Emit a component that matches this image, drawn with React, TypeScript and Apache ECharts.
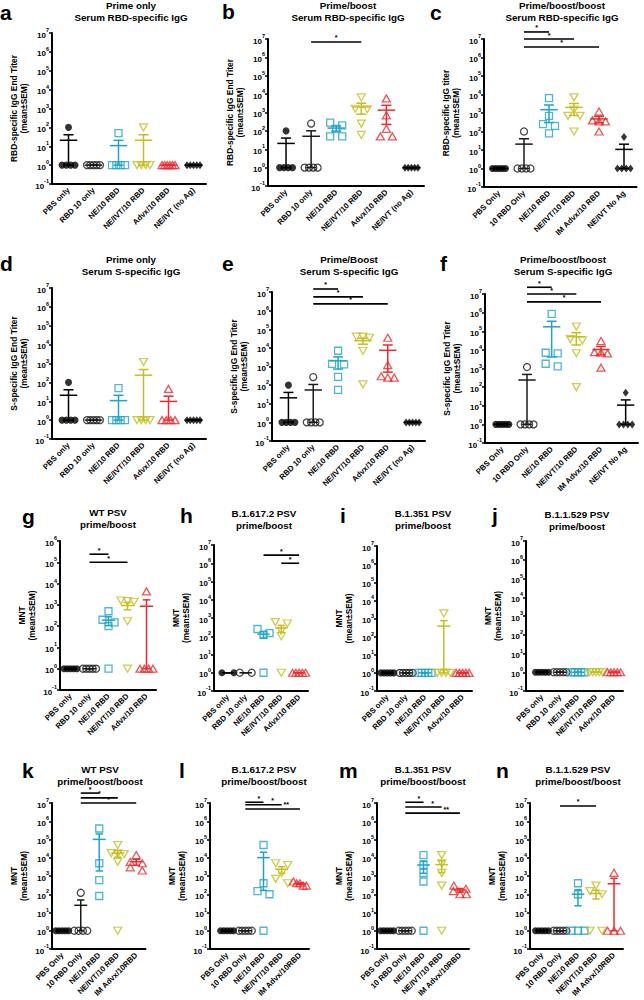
import React, { useEffect, useRef } from "react";
import * as echarts from "echarts";

const FONT = '"Liberation Sans", Arial, Helvetica, sans-serif';

// ---------- categories ----------
const CATS_ABDE = ["PBS only", "RBD 10 only", "NE/10 RBD", "NE/IVT/10 RBD", "Advx/10 RBD", "NE/IVT (no Ag)"];
const CATS_CF = ["PBS Only", "10 RBD Only", "NE/10 RBD", "NE/IVT/10 RBD", "IM Advx/10 RBD", "NE/IVT No Ag"];
const CATS_GJ = ["PBS only", "RBD 10 only", "NE/10 RBD", "NE/IVT/10 RBD", "Advx/10 RBD"];
const CATS_KN = ["PBS Only", "10 RBD Only", "NE/10 RBD", "NE/IVT/10 RBD", "IM Advx/10RBD"];

// ---------- values (one array per group) ----------
const VALUES_A = [[100, 1, 1, 1, 1], [1, 1, 1, 1, 1], [50, 1, 1, 1, 1], [100, 1, 1, 1, 1], [1, 1, 1, 1, 1, 1], [1, 1, 1, 1, 1]];
const VALUES_B = [[100, 1, 1, 1, 1], [250, 1, 1, 1, 1], [280, 200, 130, 50, 50], [6600, 1600, 1500, 250, 60], [5800, 700, 130, 50, 50], [1, 1, 1, 1, 1]];
const VALUES_C = [[1, 1, 1, 1, 1], [100, 1, 1, 1, 1], [6300, 700, 250, 200, 80], [7000, 1500, 700, 700, 100], [1200, 400, 350, 350, 100], [50, 1, 1, 1, 1]];
const VALUES_D = [[100, 1, 1, 1, 1], [1, 1, 1, 1, 1], [50, 1, 1, 1, 1], [1200, 1, 1, 1, 1], [45, 1, 1, 1, 1], [1, 1, 1, 1, 1]];
const VALUES_E = [[100, 1, 1, 1, 1], [270, 1, 1, 1, 1], [7000, 1400, 1300, 280, 55], [40000, 40000, 35000, 7000, 110], [35000, 1200, 300, 250, 250], [1, 1, 1, 1, 1]];
const VALUES_F = [[1, 1, 1, 1, 1], [1200, 1, 1, 1, 1], [850000, 7000, 6500, 1800, 1300], [180000, 38000, 32000, 6600, 100], [30000, 7500, 7000, 6500, 1100], [50, 1, 1, 1, 1]];
const VALUES_G = [[1, 1, 1, 1, 1], [1, 1, 1, 1, 1], [500, 200, 150, 100, 1], [1600, 1500, 1400, 170, 1], [4300, 1, 1, 1, 1]];
const VALUES_H = [[1, 1], [1, 1], [250, 150, 120, 1], [600, 500, 200, 100, 1], [1, 1, 1, 1, 1]];
const VALUES_I = [[1, 1, 1, 1, 1], [1, 1, 1, 1, 1], [1, 1, 1, 1, 1], [1900, 1, 1, 1, 1], [1, 1, 1, 1, 1]];
const VALUES_J = [[1, 1, 1, 1, 1], [1, 1, 1, 1, 1], [1, 1, 1, 1, 1], [1, 1, 1, 1, 1], [1, 1, 1, 1, 1]];
const VALUES_K = [[1, 1, 1, 1, 1], [120, 1, 1, 1, 1], [400000, 5000, 600, 80], [50000, 18000, 17000, 16000, 6000, 1], [14000, 6000, 5000, 3000, 2000]];
const VALUES_L = [[1, 1, 1, 1, 1], [1, 1, 1, 1, 1], [50000, 400, 150, 100, 1], [5000, 4000, 1500, 700, 400], [500, 400, 400, 300, 300]];
const VALUES_M = [[1, 1, 1, 1, 1], [1, 1, 1, 1, 1], [14000, 4000, 1500, 500, 1], [14000, 5000, 1500, 300, 1], [300, 200, 150, 100, 100]];
const VALUES_N = [[1, 1, 1, 1, 1], [1, 1, 1, 1, 1], [400, 100, 1, 1, 1], [300, 150, 100, 1, 1], [1500, 1, 1, 1]];

// ---------- significance bars: [fromGroup, toGroup, level, label] ----------
const SIG_B: [number, number, number, string][] = [[1, 3, 6.9e6, "*"]];
const SIG_C: [number, number, number, string][] = [[1, 2, 2.4e7, "*"], [1, 3, 1e7, "*"], [1, 4, 3.7e6, "*"]];
const SIG_E: [number, number, number, string][] = [[1, 2, 1.45e7, "*"], [1, 3, 5.5e6, "*"], [1, 4, 2.3e6, "*"]];
const SIG_F: [number, number, number, string][] = [[1, 2, 2.3e7, "*"], [1, 3, 1e7, "*"], [1, 4, 3.8e6, "*"]];
const SIG_G: [number, number, number, string][] = [[1, 2, 2.4e5, "*"], [1, 3, 1.0e5, "*"]];
const SIG_H: [number, number, number, string][] = [[2, 4, 2.8e6, "*"], [3, 4, 1.0e6, "*"]];
const SIG_K: [number, number, number, string][] = [[1, 2, 3.5e7, "*"], [1, 3, 1.9e7, "*"], [1, 4, 1e7, "*"]];
const SIG_L: [number, number, number, string][] = [[1, 2, 1.1e7, "*"], [1, 3, 8e6, "*"], [1, 4, 4.7e6, "**"]];
const SIG_M: [number, number, number, string][] = [[1, 2, 1.1e7, "*"], [1, 3, 6e6, "*"], [1, 4, 2.8e6, "**"]];
const SIG_N: [number, number, number, string][] = [[1, 3, 6.9e6, "*"]];

// ---------- group styles ----------
const GROUP_COLORS = ["#000000", "#1a1a1a", "#22a2c8", "#c4be22", "#ec2a2e", "#000000"];
const GROUP_SYMBOLS: any[] = [
  { symbol: "circle", size: 7, filled: true },
  { symbol: "circle", size: 7, filled: false },
  { symbol: "rect", size: 7, filled: false },
  { symbol: "path://M0,0L10,0L5,9Z", size: [8, 7], filled: false },
  { symbol: "path://M5,0L10,9L0,9Z", size: [8, 7], filled: false },
  { symbol: "diamond", size: [6, 8], filled: true },
];

const NAME_RBD = "RBD-specific IgG End Titer\n(mean±SEM)";
const NAME_RBD_C = "RBD-specific IgG titer\n(mean±SEM)";
const NAME_S = "S-specific IgG End Titer\n(mean±SEM)";
const NAME_MNT = "MNT\n(mean±SEM)";

const PANELS = [
  { letter: "a", lx: 0, ly: 12, t1: "Prime only", t2: "Serum RBD-specific IgG", tx: 131, ty: 5, cats: CATS_ABDE, vals: VALUES_A, sig: [], yMax: 1e7, yName: NAME_RBD, axisX: 52, left: 56, width: 150, top: 33, bottom: 184, starAt: 0.5 },
  { letter: "b", lx: 222, ly: 11, t1: "Prime/boost", t2: "Serum RBD-specific IgG", tx: 348, ty: 5, cats: CATS_ABDE, vals: VALUES_B, sig: SIG_B, yMax: 1e7, yName: NAME_RBD, axisX: 268, left: 273.5, width: 150.5, top: 39, bottom: 186, starAt: 0.5 },
  { letter: "c", lx: 430, ly: 12, t1: "Prime/boost/boost", t2: "Serum RBD-specific IgG", tx: 562, ty: 5, cats: CATS_CF, vals: VALUES_C, sig: SIG_C, yMax: 1e7, yName: NAME_RBD_C, axisX: 484, left: 486.5, width: 150, top: 39, bottom: 187, starAt: 0.5 },
  { letter: "d", lx: 0, ly: 263, t1: "Prime only", t2: "Serum S-specific IgG", tx: 131, ty: 259, cats: CATS_ABDE, vals: VALUES_D, sig: [], yMax: 1e7, yName: NAME_S, axisX: 52, left: 56, width: 150, top: 288, bottom: 439, starAt: 0.5 },
  { letter: "e", lx: 222, ly: 263, t1: "Prime/Boost", t2: "Serum S-specific IgG", tx: 349, ty: 259, cats: CATS_ABDE, vals: VALUES_E, sig: SIG_E, yMax: 1e7, yName: NAME_S, axisX: 272, left: 276, width: 149, top: 292, bottom: 441, starAt: 0.5 },
  { letter: "f", lx: 440, ly: 263, t1: "Prime/boost/boost", t2: "Serum S-specific IgG", tx: 563, ty: 259, cats: CATS_CF, vals: VALUES_F, sig: SIG_F, yMax: 1e7, yName: NAME_S, axisX: 485, left: 490, width: 148, top: 294, bottom: 443, starAt: 0.5 },
  { letter: "g", lx: 22, ly: 516, t1: "WT PSV", t2: "prime/boost", tx: 108, ty: 512, cats: CATS_GJ, vals: VALUES_G, sig: SIG_G, yMax: 1e6, yName: NAME_MNT, axisX: 60, left: 61, width: 95, top: 541, bottom: 690, starAt: 0.5 },
  { letter: "h", lx: 180, ly: 515, t1: "B.1.617.2 PSV", t2: "prime/boost", tx: 264, ty: 513, cats: CATS_GJ, vals: VALUES_H, sig: SIG_H, yMax: 1e7, yName: NAME_MNT, axisX: 214, left: 219, width: 89, top: 545, bottom: 691, starAt: 0.5 },
  { letter: "i", lx: 340, ly: 515, t1: "B.1.351 PSV", t2: "prime/boost", tx: 423, ty: 513, cats: CATS_GJ, vals: VALUES_I, sig: [], yMax: 1e7, yName: NAME_MNT, axisX: 377, left: 378, width: 94, top: 546, bottom: 691, starAt: 0.5 },
  { letter: "j", lx: 492, ly: 515, t1: "B.1.1.529 PSV", t2: "prime/boost", tx: 577, ty: 514, cats: CATS_GJ, vals: VALUES_J, sig: [], yMax: 1e7, yName: NAME_MNT, axisX: 526, left: 533, width: 90, top: 541, bottom: 691, starAt: 0.5 },
  { letter: "k", lx: 22, ly: 770, t1: "WT PSV", t2: "prime/boost/boost", tx: 100, ty: 769, cats: CATS_KN, vals: VALUES_K, sig: SIG_K, yMax: 1e7, yName: NAME_MNT, axisX: 52, left: 53, width: 92.5, top: 803, bottom: 949, starAt: 0.5 },
  { letter: "l", lx: 179, ly: 770, t1: "B.1.617.2 PSV", t2: "prime/boost/boost", tx: 264, ty: 769, cats: CATS_KN, vals: VALUES_L, sig: SIG_L, yMax: 1e7, yName: NAME_MNT, axisX: 210, left: 218, width: 91, top: 803, bottom: 949, starAt: 0.75 },
  { letter: "m", lx: 339, ly: 770, t1: "B.1.351 PSV", t2: "prime/boost/boost", tx: 423, ty: 769, cats: CATS_KN, vals: VALUES_M, sig: SIG_M, yMax: 1e7, yName: NAME_MNT, axisX: 377, left: 378, width: 91, top: 803, bottom: 949, starAt: 0.75 },
  { letter: "n", lx: 496, ly: 770, t1: "B.1.1.529 PSV", t2: "prime/boost/boost", tx: 578, ty: 769, cats: CATS_KN, vals: VALUES_N, sig: SIG_N, yMax: 1e7, yName: NAME_MNT, axisX: 530, left: 533, width: 90, top: 803, bottom: 949, starAt: 0.5 },
];

function meanSem(v: number[]) {
  const n = v.length;
  const m = v.reduce((a, b) => a + b, 0) / n;
  if (n < 2) return [m, 0];
  const sd = Math.sqrt(v.reduce((a, b) => a + (b - m) * (b - m), 0) / (n - 1));
  return [m, sd / Math.sqrt(n)];
}

// horizontal spreading of overlapping points (scatter-dot-plot style)
function spread(values: number[]): number[] {
  const idx = values.map((_, i) => i).sort((a, b) => values[b] - values[a]);
  const offs = new Array(values.length).fill(0);
  let i = 0;
  while (i < idx.length) {
    let j = i + 1;
    const base = Math.log10(values[idx[i]]);
    while (j < idx.length && base - Math.log10(values[idx[j]]) < 0.3) j++;
    const k = j - i;
    if (k > 1) {
      const step = Math.min(12, 13 / (k - 1));
      for (let t = 0; t < k; t++) offs[idx[i + t]] = (t - (k - 1) / 2) * step;
    }
    i = j;
  }
  return offs;
}

function buildOption() {
  const grid: any[] = [];
  const xAxis: any[] = [];
  const yAxis: any[] = [];
  const series: any[] = [];
  const graphic: any[] = [];

  PANELS.forEach((p, pi) => {
    grid.push({ left: p.left, top: p.top, width: p.width, height: p.bottom - p.top });
    xAxis.push({
      type: "category",
      gridIndex: pi,
      data: p.cats,
      axisLine: { onZero: false, lineStyle: { color: "#000", width: 2 } },
      axisTick: { alignWithLabel: true, length: 3, lineStyle: { color: "#000", width: 1.5 } },
      axisLabel: { rotate: 45, interval: 0, fontSize: 7.8, fontWeight: "bold", color: "#000", margin: 5, fontFamily: FONT },
      splitLine: { show: false },
    });
    yAxis.push({
      type: "log",
      gridIndex: pi,
      logBase: 10,
      min: 0.1,
      max: p.yMax,
      offset: p.left - p.axisX,
      axisLine: { show: true, lineStyle: { color: "#000", width: 2 } },
      axisTick: { show: true, length: 3, lineStyle: { color: "#000", width: 1.5 } },
      splitLine: { show: false },
      minorTick: { show: false },
      axisLabel: {
        color: "#000",
        margin: 3,
        fontFamily: FONT,
        formatter: (v: number) => "{b|10}{s|" + Math.round(Math.log10(v)) + "}",
        rich: {
          b: { fontSize: 8, fontWeight: "bold", color: "#000", fontFamily: FONT, lineHeight: 12, verticalAlign: "bottom" },
          s: { fontSize: 5.5, fontWeight: "bold", color: "#000", fontFamily: FONT, lineHeight: 7, verticalAlign: "top" },
        },
      },
      name: p.yName,
      nameLocation: "middle",
      nameGap: 23,
      nameTextStyle: { fontSize: 8.4, fontWeight: "bold", color: "#000", fontFamily: FONT, lineHeight: 10 },
    });

    // points
    p.vals.forEach((vals, gi) => {
      const st = GROUP_SYMBOLS[gi];
      const offs = spread(vals);
      series.push({
        type: "scatter",
        xAxisIndex: pi,
        yAxisIndex: pi,
        symbol: st.symbol,
        symbolSize: st.size,
        z: 4,
        itemStyle: {
          color: st.filled ? GROUP_COLORS[gi] : "rgba(0,0,0,0)",
          borderColor: GROUP_COLORS[gi],
          borderWidth: st.filled ? 0 : 1.3,
        },
        emphasis: { disabled: true },
        data: vals.map((v, k) => ({ value: [gi, v], symbolOffset: [offs[k], 0] })),
      });
    });

    // mean ± SEM
    const errData = p.vals.map((vals, gi) => {
      const [m, s] = meanSem(vals);
      return [gi, m, Math.max(m - s, 0.1), m + s];
    });
    series.push({
      type: "custom",
      xAxisIndex: pi,
      yAxisIndex: pi,
      z: 3,
      clip: false,
      encode: { x: 0, y: [1, 2, 3] },
      data: errData,
      renderItem: (params: any, api: any) => {
        const gi = api.value(0);
        const pm = api.coord([gi, api.value(1)]);
        const pl = api.coord([gi, api.value(2)]);
        const ph = api.coord([gi, api.value(3)]);
        const bw = api.size([1, 0])[0];
        const style = { stroke: GROUP_COLORS[gi], lineWidth: 1.5 };
        const ln = (x1: number, y1: number, x2: number, y2: number) => ({ type: "line", shape: { x1, y1, x2, y2 }, style });
        return {
          type: "group",
          children: [
            ln(pm[0], pl[1], pm[0], ph[1]),
            ln(pm[0] - bw * 0.35, pm[1], pm[0] + bw * 0.35, pm[1]),
            ln(pm[0] - bw * 0.2, ph[1], pm[0] + bw * 0.2, ph[1]),
            ln(pm[0] - bw * 0.2, pl[1], pm[0] + bw * 0.2, pl[1]),
          ],
        };
      },
    });

    // significance bars
    if (p.sig.length) {
      const sig = p.sig;
      const frac = p.starAt;
      series.push({
        type: "custom",
        xAxisIndex: pi,
        yAxisIndex: pi,
        z: 5,
        clip: false,
        encode: { x: [0, 2], y: 1 },
        data: sig.map((s) => [s[0], s[2], s[1]]),
        renderItem: (params: any, api: any) => {
          const s = sig[params.dataIndex];
          const p1 = api.coord([s[0], s[2]]);
          const p2 = api.coord([s[1], s[2]]);
          return {
            type: "group",
            children: [
              { type: "line", shape: { x1: p1[0], y1: p1[1], x2: p2[0], y2: p2[1] }, style: { stroke: "#000", lineWidth: 1.6 } },
              {
                type: "text",
                x: p1[0] + (p2[0] - p1[0]) * frac,
                y: p1[1] - 0.5,
                style: { text: s[3], font: `bold 7px ${FONT}`, fill: "#000", textAlign: "center", align: "center", textVerticalAlign: "bottom", verticalAlign: "bottom" },
              },
            ],
          };
        },
      });
    }

    // panel letter, titles, axis corner connector
    graphic.push({
      type: "text",
      x: p.lx,
      y: p.ly,
      style: { text: p.letter, font: `bold 21px ${FONT}`, fill: "#000", textAlign: "left", align: "left", textVerticalAlign: "middle", verticalAlign: "middle" },
    });
    [p.t1, p.t2].forEach((t, k) => {
      graphic.push({
        type: "text",
        x: p.tx,
        y: p.ty + k * 12,
        style: { text: t, font: `bold 9.8px ${FONT}`, fill: "#000", textAlign: "center", align: "center", textVerticalAlign: "middle", verticalAlign: "middle" },
      });
    });
    if (p.left > p.axisX) {
      graphic.push({
        type: "line",
        shape: { x1: p.axisX, y1: p.bottom, x2: p.left + 0.5, y2: p.bottom },
        style: { stroke: "#000", lineWidth: 2 },
      });
    }
  });

  return { animation: false, backgroundColor: "#fff", grid, xAxis, yAxis, series, graphic };
}

export default function App() {
  const ref = useRef<HTMLDivElement>(null);
  useEffect(() => {
    document.body.style.margin = "0";
    const chart = echarts.init(ref.current!, null, { renderer: "svg" });
    chart.setOption(buildOption());
    return () => chart.dispose();
  }, []);
  return <div ref={ref} style={{ position: "absolute", left: 0, top: 0, width: 644, height: 1000 }} />;
}
